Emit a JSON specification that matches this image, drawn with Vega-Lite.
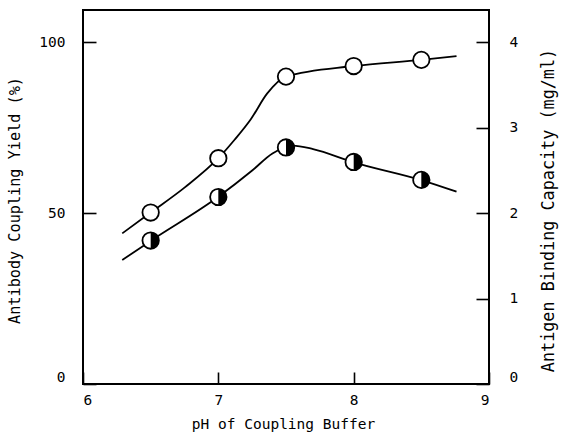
{
  "$schema": "https://vega.github.io/schema/vega-lite/v6.json",
  "width": 406,
  "height": 374,
  "autosize": {"type": "none"},
  "padding": {"left": 83, "top": 10, "right": 73, "bottom": 52},
  "background": "white",
  "config": {
    "view": {"stroke": "black", "strokeWidth": 2},
    "font": "DejaVu Sans Mono",
    "axis": {
      "labelFont": "DejaVu Sans Mono",
      "titleFont": "DejaVu Sans Mono",
      "labelColor": "black",
      "titleColor": "black",
      "titleFontWeight": "normal",
      "domain": false,
      "grid": false,
      "ticks": true,
      "tickColor": "black",
      "tickOpacity": 1,
      "tickWidth": 1.6,
      "labelFontSize": 14.5,
      "zindex": 2
    }
  },
  "datasets": {
    "yield_points": [
      {"pH": 6.5, "yield": 50.2},
      {"pH": 7.0, "yield": 66.1},
      {"pH": 7.5, "yield": 90.0},
      {"pH": 8.0, "yield": 93.1},
      {"pH": 8.5, "yield": 94.9}
    ],
    "yield_curve": [
      {"pH": 6.29, "yield": 44.1},
      {"pH": 6.5, "yield": 50.2},
      {"pH": 6.75, "yield": 57.5},
      {"pH": 7.0, "yield": 66.1},
      {"pH": 7.12, "yield": 71.5},
      {"pH": 7.24, "yield": 77.5},
      {"pH": 7.36, "yield": 85.0},
      {"pH": 7.5, "yield": 90.0},
      {"pH": 8.0, "yield": 93.1},
      {"pH": 8.5, "yield": 94.9},
      {"pH": 8.76, "yield": 96.0}
    ],
    "capacity_points": [
      {"pH": 6.5, "capacity": 1.68},
      {"pH": 7.0, "capacity": 2.19},
      {"pH": 7.5, "capacity": 2.77},
      {"pH": 8.0, "capacity": 2.6},
      {"pH": 8.5, "capacity": 2.39}
    ],
    "capacity_curve": [
      {"pH": 6.29, "capacity": 1.452},
      {"pH": 6.5, "capacity": 1.676},
      {"pH": 7.0, "capacity": 2.192},
      {"pH": 7.25, "capacity": 2.5},
      {"pH": 7.4, "capacity": 2.7},
      {"pH": 7.55, "capacity": 2.792},
      {"pH": 7.7, "capacity": 2.752},
      {"pH": 8.0, "capacity": 2.596},
      {"pH": 8.5, "capacity": 2.388},
      {"pH": 8.76, "capacity": 2.252}
    ]
  },
  "layer": [
    {
      "encoding": {
        "x": {
          "field": "pH",
          "type": "quantitative",
          "scale": {"domain": [6, 9], "nice": false, "zero": false},
          "axis": {
            "orient": "bottom",
            "values": [6, 7, 8, 9],
            "format": "d",
            "ticks": true,
            "offset": -12,
            "tickSize": 12,
            "labelPadding": 9,
            "labelFlush": true,
            "title": "pH of Coupling Buffer",
            "titleFontSize": 14.5,
            "titleX": 200,
            "titleY": 52,
            "titleAlign": "center",
            "titleBaseline": "middle"
          }
        },
        "y": {
          "field": "yield",
          "type": "quantitative",
          "scale": {"domain": [0, 109.5], "nice": false},
          "axis": {
            "orient": "left",
            "values": [0, 50, 100],
            "format": "d",
            "ticks": true,
            "offset": -13,
            "tickSize": 13,
            "labelPadding": 18,
            "labelFlush": true,
            "title": "Antibody Coupling Yield (%)",
            "titleFontSize": 15.2,
            "titleAngle": -90,
            "titleX": -82,
            "titleY": 190,
            "titleAlign": "center",
            "titleBaseline": "middle"
          }
        }
      },
      "layer": [
        {
          "data": {"name": "yield_curve"},
          "mark": {"type": "line", "interpolate": "monotone", "color": "black", "strokeWidth": 1.8}
        },
        {
          "data": {"name": "yield_points"},
          "mark": {"type": "point", "shape": "circle", "filled": true, "fill": "white", "stroke": "black", "strokeWidth": 1.8, "size": 270, "opacity": 1}
        }
      ]
    },
    {
      "encoding": {
        "x": {"field": "pH", "type": "quantitative"},
        "y": {
          "field": "capacity",
          "type": "quantitative",
          "scale": {"domain": [0, 4.38], "nice": false},
          "axis": {
            "orient": "right",
            "values": [0, 1, 2, 3, 4],
            "format": "d",
            "ticks": true,
            "offset": -13,
            "tickSize": 13,
            "labelPadding": 20,
            "labelFlush": true,
            "title": "Antigen Binding Capacity (mg/ml)",
            "titleFontSize": 16.8,
            "titleAngle": -90,
            "titleX": 72,
            "titleY": 200,
            "titleAlign": "center",
            "titleBaseline": "middle"
          }
        }
      },
      "layer": [
        {
          "data": {"name": "capacity_curve"},
          "mark": {"type": "line", "interpolate": "monotone", "color": "black", "strokeWidth": 1.8}
        },
        {
          "data": {"name": "capacity_points"},
          "mark": {"type": "point", "shape": "circle", "filled": true, "fill": "white", "stroke": "black", "strokeWidth": 1.8, "size": 270, "opacity": 1}
        },
        {
          "data": {"name": "capacity_points"},
          "mark": {"type": "point", "shape": "M0,-1A1,1,0,0,1,0,1Z", "filled": true, "fill": "black", "strokeWidth": 0, "size": 270, "opacity": 1}
        }
      ]
    }
  ],
  "resolve": {"scale": {"y": "independent"}}
}
